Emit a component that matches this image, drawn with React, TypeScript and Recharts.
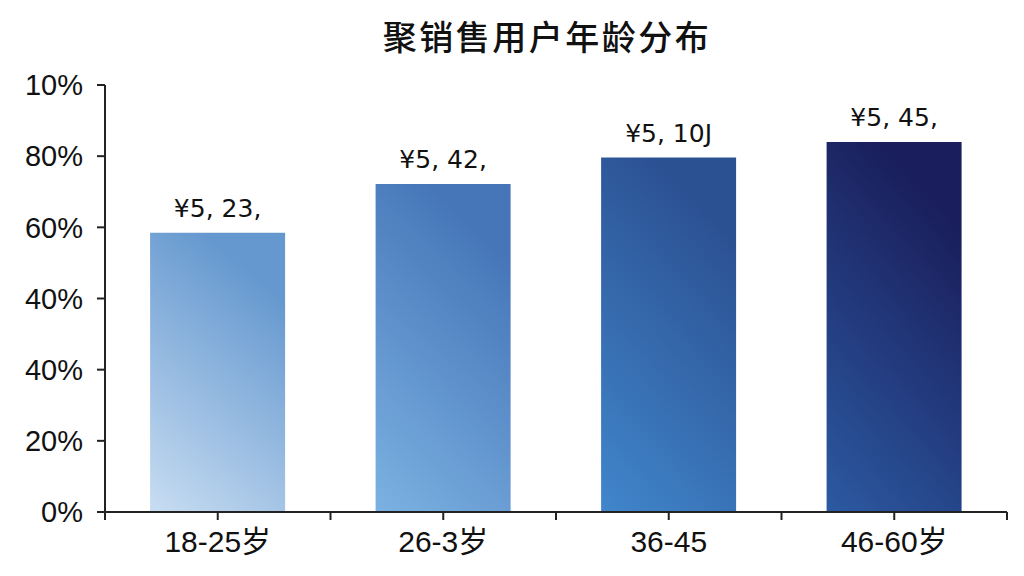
import { BarChart, Bar, XAxis, YAxis, Cell, LabelList } from "recharts";

const title = "聚销售用户年龄分布";
const ageGroups = ["18-25岁", "26-3岁", "36-45", "46-60岁"];
const shares = [78.5, 92.2, 99.6, 104];
const valueLabels = ["¥5, 23,", "¥5, 42,", "¥5, 10J", "¥5, 45,"];
const yTicks = [0, 20, 40, 60, 80, 100, 120];
const yTickLabels = ["0%", "20%", "40%", "40%", "60%", "80%", "10%"];
const barGradients = [
  ["#c8ddf2", "#6598cf"],
  ["#7cb2e2", "#4676b8"],
  ["#4186cb", "#2b5193"],
  ["#2c5aa2", "#1a1e5c"],
];

const data = ageGroups.map((name, i) => ({ name, share: shares[i], label: valueLabels[i] }));

const W = 1024;
const H = 576;
const margin = { top: 85, right: 17, bottom: 0, left: 0 };
const yAxisWidth = 105;
const halfBand = (W - margin.left - margin.right - yAxisWidth) / ageGroups.length / 2;
const TICK = 8;
const TICK_GAP = 11;

const XTick = (props: any) => {
  const { x, y, payload, index } = props;
  const axisY = y - TICK - TICK_GAP;
  return (
    <g>
      <line x1={x - halfBand} x2={x - halfBand} y1={axisY} y2={axisY + TICK} stroke="#222" strokeWidth={2} />
      {index === ageGroups.length - 1 && (
        <line x1={x + halfBand} x2={x + halfBand} y1={axisY} y2={axisY + TICK} stroke="#222" strokeWidth={2} />
      )}
      <text
        x={x}
        y={y}
        dy="0.71em"
        textAnchor="middle"
        fill="#111"
        fontSize={30}
        fontFamily="'Liberation Sans', 'Noto Sans CJK SC', sans-serif"
      >
        {payload.value}
      </text>
    </g>
  );
};

export default function App() {
  return (
    <div style={{ position: "absolute", left: 0, top: 0, width: W, height: H, background: "#fff" }}>
      <div
        style={{
          position: "absolute",
          left: 0,
          width: 1094,
          top: 15,
          textAlign: "center",
          fontFamily: "'Noto Sans CJK SC', sans-serif",
          fontSize: 34,
          fontWeight: 500,
          letterSpacing: 2.5,
          color: "#111",
          lineHeight: "42px",
        }}
      >
        {title}
      </div>
      <BarChart width={W} height={H} data={data} margin={margin} barCategoryGap="20%">
        <defs>
          {barGradients.map(([from, to], i) => (
            <linearGradient key={i} id={`bar${i}`} x1="0" y1="1" x2="0.4" y2="0">
              <stop offset="0%" stopColor={from} />
              <stop offset="100%" stopColor={to} />
            </linearGradient>
          ))}
        </defs>
        <XAxis
          dataKey="name"
          height={64}
          axisLine={{ stroke: "#222", strokeWidth: 2 }}
          tickLine={{ stroke: "#222", strokeWidth: 2 }}
          tickSize={TICK}
          tickMargin={TICK_GAP}
          tick={<XTick />}
          interval={0}
        />
        <YAxis
          type="number"
          domain={[0, 120]}
          ticks={yTicks}
          width={yAxisWidth}
          axisLine={{ stroke: "#222", strokeWidth: 2 }}
          tickLine={{ stroke: "#222", strokeWidth: 2 }}
          tickSize={TICK}
          tickMargin={14}
          tickFormatter={(v: number) => yTickLabels[yTicks.indexOf(v)]}
          tick={{ fill: "#111", fontSize: 29, fontFamily: "'Liberation Sans', sans-serif" }}
        />
        <Bar dataKey="share" isAnimationActive={false}>
          {data.map((d, i) => (
            <Cell key={d.name} fill={`url(#bar${i})`} />
          ))}
          <LabelList
            dataKey="label"
            position="top"
            offset={16}
            style={{ fill: "#111", fontSize: 25, fontFamily: "'DejaVu Sans', sans-serif" }}
          />
        </Bar>
      </BarChart>
    </div>
  );
}
